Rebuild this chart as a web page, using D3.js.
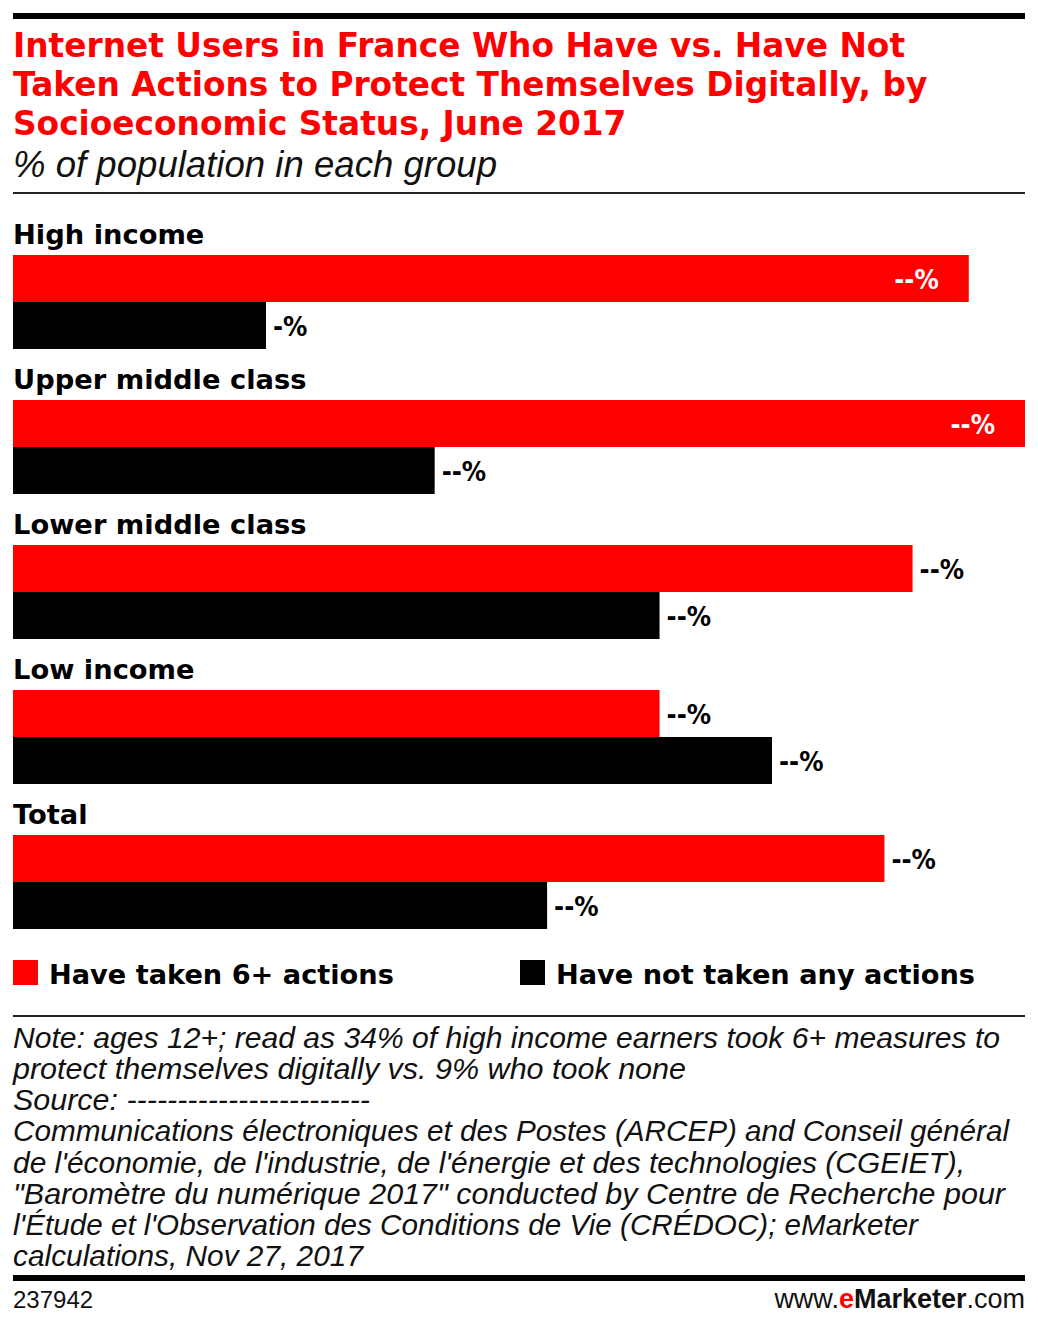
<!DOCTYPE html>
<html>
<head>
<meta charset="utf-8">
<script src="https://cdn.jsdelivr.net/npm/d3@7"></script>
<style>
  html, body { margin: 0; padding: 0; background: #fff; }
  svg { display: block; }
</style>
</head>
<body>
<script>
// ---- data ----
const categories = ["High income", "Upper middle class", "Lower middle class", "Low income", "Total"];
const seriesNames = ["Have taken 6+ actions", "Have not taken any actions"];
const takenValues = [34, 36, 32, 23, 31];
const notTakenValues = [9, 15, 23, 27, 19];
const takenLabels = ["--%", "--%", "--%", "--%", "--%"];
const notTakenLabels = ["-%", "--%", "--%", "--%", "--%"];
const titleLines = [
  "Internet Users in France Who Have vs. Have Not",
  "Taken Actions to Protect Themselves Digitally, by",
  "Socioeconomic Status, June 2017"
];
const subtitle = "% of population in each group";
const noteLines = [
  "Note: ages 12+; read as 34% of high income earners took 6+ measures to",
  "protect themselves digitally vs. 9% who took none",
  "Source: ------------------------",
  "Communications électroniques et des Postes (ARCEP) and Conseil général",
  "de l'économie, de l'industrie, de l'énergie et des technologies (CGEIET),",
  "\"Baromètre du numérique 2017\" conducted by Centre de Recherche pour",
  "l'Étude et l'Observation des Conditions de Vie (CRÉDOC); eMarketer",
  "calculations, Nov 27, 2017"
];
const chartId = "237942";

// ---- layout ----
const W = 1038, H = 1327;
const RED = "#ff0000", BLACK = "#000000";
const boldFont = "'DejaVu Sans', Verdana, sans-serif";
const narrowBold = "'Liberation Sans Narrow', 'DejaVu Sans Condensed', sans-serif";
const lightFont = "'Liberation Sans', Arial, sans-serif";
const noteWidths = [987, 673, 357, 996, 952, 992, 905, 350];

const svg = d3.select("body").append("svg")
  .attr("width", W).attr("height", H)
  .attr("viewBox", `0 0 ${W} ${H}`);

svg.append("rect").attr("width", W).attr("height", H).attr("fill", "#fff");

// rules
svg.append("rect").attr("x", 13).attr("y", 13).attr("width", 1012).attr("height", 6).attr("fill", BLACK);
svg.append("rect").attr("x", 13).attr("y", 192).attr("width", 1012).attr("height", 2).attr("fill", "#222");
svg.append("rect").attr("x", 13).attr("y", 1015).attr("width", 1012).attr("height", 2).attr("fill", "#222");
svg.append("rect").attr("x", 13).attr("y", 1275).attr("width", 1012).attr("height", 6).attr("fill", BLACK);

// title
svg.append("g").selectAll("text").data(titleLines).join("text")
  .attr("x", 13)
  .attr("y", (d, i) => 57 + i * 39)
  .attr("fill", RED)
  .attr("font-family", boldFont)
  .attr("font-weight", "bold")
  .attr("font-size", 32.8)
  .text(d => d);

svg.append("text")
  .attr("x", 13).attr("y", 177)
  .attr("fill", "#111")
  .attr("font-family", lightFont)
  .attr("font-style", "italic")
  .attr("font-size", 36)
  .attr("textLength", 484)
  .attr("lengthAdjust", "spacingAndGlyphs")
  .text(subtitle);

// scales
const x = d3.scaleLinear().domain([0, 36]).range([13, 1025]);
const y = d3.scaleBand().domain(categories).range([210, 210 + 145 * categories.length]).paddingInner(0);
const barH = 47;

const rows = categories.map((c, i) => ({
  cat: c,
  taken: takenValues[i], notTaken: notTakenValues[i],
  takenLabel: takenLabels[i], notTakenLabel: notTakenLabels[i]
}));

const g = svg.append("g");
const grp = g.selectAll("g.row").data(rows).join("g").attr("class", "row");

grp.append("text")
  .attr("x", 13)
  .attr("y", d => y(d.cat) + 34)
  .attr("font-family", boldFont)
  .attr("font-weight", "bold")
  .attr("font-size", 27.3)
  .attr("fill", BLACK)
  .text(d => d.cat);

grp.append("rect")
  .attr("x", x(0))
  .attr("y", d => y(d.cat) + 45)
  .attr("width", d => x(d.taken) - x(0))
  .attr("height", barH)
  .attr("fill", RED);

grp.append("rect")
  .attr("x", x(0))
  .attr("y", d => y(d.cat) + 45 + barH)
  .attr("width", d => x(d.notTaken) - x(0))
  .attr("height", barH)
  .attr("fill", BLACK);

function valueLabel(sel, key, labelKey, offset, insideColor) {
  sel.append("text")
    .each(function (d) {
      const end = x(d[key]);
      const inside = end > 960;
      d3.select(this)
        .attr("x", inside ? end - 30 : end + 7)
        .attr("text-anchor", inside ? "end" : "start")
        .attr("fill", inside ? insideColor : BLACK);
    })
    .attr("y", d => y(d.cat) + offset + barH / 2 + 10)
    .attr("font-family", narrowBold)
    .attr("font-weight", "bold")
    .attr("font-size", 27)
    .text(d => d[labelKey]);
}
valueLabel(grp, "taken", "takenLabel", 45, "#fff");
valueLabel(grp, "notTaken", "notTakenLabel", 45 + barH, "#fff");

// legend
const legendX = [13, 520];
const legend = svg.append("g").selectAll("g").data(seriesNames).join("g")
  .attr("transform", (d, i) => `translate(${legendX[i]},960)`);
legend.append("rect").attr("width", 25).attr("height", 25)
  .attr("fill", (d, i) => i === 0 ? RED : BLACK);
legend.append("text")
  .attr("x", 36).attr("y", 24)
  .attr("font-family", boldFont)
  .attr("font-weight", "bold")
  .attr("font-size", 27.2)
  .attr("fill", BLACK)
  .text(d => d);

// note
svg.append("g").selectAll("text").data(noteLines).join("text")
  .attr("x", 13)
  .attr("y", (d, i) => 1048 + i * 31.15)
  .attr("font-family", lightFont)
  .attr("font-style", "italic")
  .attr("font-size", 30)
  .attr("textLength", (d, i) => noteWidths[i])
  .attr("lengthAdjust", "spacingAndGlyphs")
  .attr("fill", "#111")
  .text(d => d);

// footer
svg.append("text")
  .attr("x", 13).attr("y", 1308)
  .attr("font-family", lightFont)
  .attr("font-size", 24)
  .attr("fill", "#111")
  .text(chartId);

const brand = svg.append("text")
  .attr("x", 1025).attr("y", 1308)
  .attr("text-anchor", "end")
  .attr("font-family", lightFont)
  .attr("font-size", 27)
  .attr("fill", "#111");
brand.append("tspan").text("www.");
brand.append("tspan").attr("fill", RED).attr("font-weight", "bold").text("e");
brand.append("tspan").attr("font-weight", "bold").text("Marketer");
brand.append("tspan").text(".com");
</script>
</body>
</html>
